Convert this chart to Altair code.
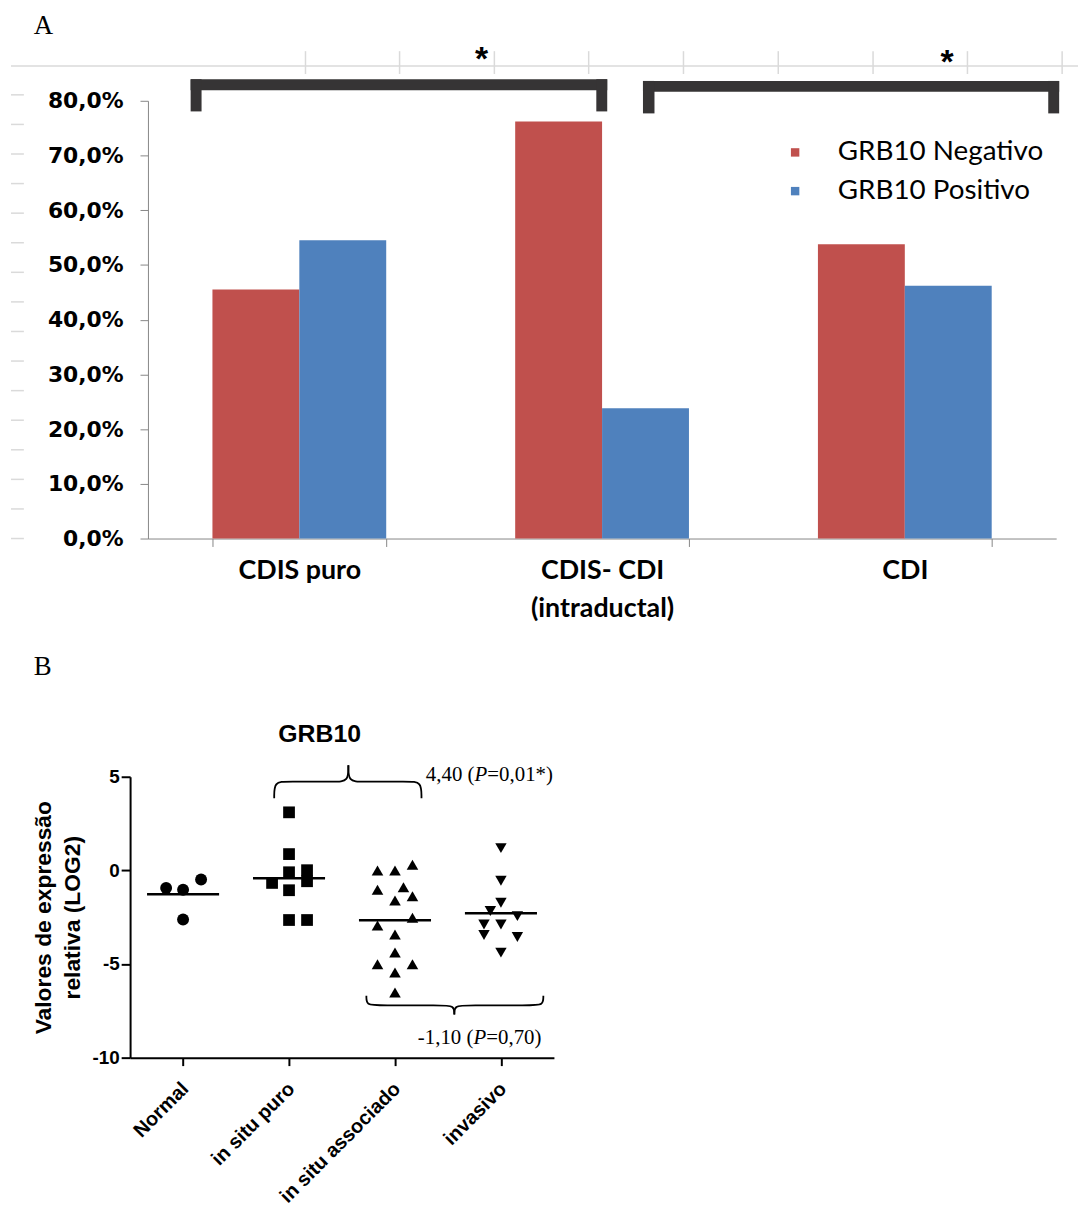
import json
import altair as alt
import pandas as pd

# ---------------- Panel A : bar chart ----------------
CATEGORIAS = ["CDIS puro", "CDIS- CDI\n(intraductal)", "CDI"]
SERIES = ["GRB10 Negativo", "GRB10 Positivo"]
GRB10_NEGATIVO = [45.5, 76.2, 53.8]
GRB10_POSITIVO = [54.5, 23.8, 46.2]
CORES = ["#C0504D", "#4F81BD"]
Y_TICKS_A = [0, 10, 20, 30, 40, 50, 60, 70, 80]
SIGNIF_A = ["*", "*"]

# ---------------- Panel B : dot plot ----------------
GRUPOS = ["Normal", "in situ puro", "in situ associado", "invasivo"]
NORMAL = [-0.94, -1.03, -0.49, -2.62]
NORMAL_COL = [-0.16, 0.0, 0.17, 0.0]
IN_SITU_PURO = [3.10, 0.87, -0.10, 0.01, -0.58, -0.67, -1.06, -2.65, -2.65]
IN_SITU_PURO_COL = [0.0, 0.0, 0.0, 0.17, 0.17, -0.16, 0.0, 0.0, 0.17]
IN_SITU_ASSOC = [0.00, 0.00, 0.30, -1.03, -0.90, -1.61, -1.38, -2.53, -2.94,
                 -3.42, -4.39, -5.01, -5.01, -5.45, -6.52]
IN_SITU_ASSOC_COL = [-0.165, 0.0, 0.165, -0.165, 0.08, 0.0, 0.165, 0.165, -0.165,
                     0.0, 0.0, -0.165, 0.165, 0.0, 0.0]
INVASIVO = [1.19, -0.55, -1.73, -2.17, -2.44, -2.89, -2.89, -3.45, -3.56, -4.39]
INVASIVO_COL = [0.0, 0.0, 0.0, -0.10, 0.155, -0.16, 0.0, -0.16, 0.155, 0.0]
Y_TICKS_B = [-10, -5, 0, 5]
TITULO_B = "GRB10"
Y_TITULO_B = ["Valores de expressão", "relativa (LOG2)"]
COMP_PRE = ["4,40 (", "-1,10 ("]
COMP_P = ["P", "P"]
COMP_POST = ["=0,01*)", "=0,70)"]
COMP_X = [2.75, 2.74]
COMP_Y = [4.77, -9.27]
# braces: x_left, x_tip, x_right, y_end, y_mid, y_tip (data units)
BRACES = [(0.86, 1.56, 2.25, 3.85, 4.74, 5.62),
          (1.73, 2.56, 3.40, -6.69, -7.21, -7.69)]

SANS = "Liberation Sans"
SERIF = "Liberation Serif"
W_A, H_A = 915, 441
W_B, H_B = 409, 283
B_SHIFT = 18

# ================= Panel A =================
dfA = pd.DataFrame({
    "categoria": CATEGORIAS * 2,
    "serie": [SERIES[0]] * 3 + [SERIES[1]] * 3,
    "valor": GRB10_NEGATIVO + GRB10_POSITIVO,
})

bars = alt.Chart(dfA).mark_bar().encode(
    x=alt.X("categoria:N", sort=CATEGORIAS, title=None,
            scale=alt.Scale(paddingInner=0.426, paddingOuter=0.213),
            axis=alt.Axis(labelExpr="split(datum.label, '\\n')", labelAngle=0,
                          labelFont="Lato", labelFontWeight="bold", labelFontSize=27,
                          labelColor="black", labelLineHeight=39, labelPadding=11,
                          labelBaseline="top", tickBand="extent", tickSize=8,
                          tickColor="#868686", domainColor="#868686", grid=False)),
    xOffset=alt.XOffset("serie:N", sort=SERIES),
    y=alt.Y("valor:Q", title=None, scale=alt.Scale(domain=[0, 80], nice=False),
            axis=alt.Axis(values=Y_TICKS_A,
                          labelExpr="replace(format(datum.value, '.1f'), '.', ',') + '%'",
                          labelFont="DejaVu Sans", labelFontWeight="bold", labelFontSize=22,
                          labelColor="black", labelPadding=17, tickSize=8,
                          tickColor="#868686", domainColor="#868686", grid=False)),
    color=alt.Color("serie:N", sort=SERIES,
                    scale=alt.Scale(domain=SERIES, range=CORES),
                    legend=alt.Legend(orient="none", legendX=638, legendY=38, title=None,
                                      symbolType="square", symbolSize=72,
                                      symbolStrokeWidth=0, labelFont="Lato",
                                      labelFontSize=28, labelColor="black", labelLimit=0,
                                      labelOffset=29, rowPadding=11, padding=0)),
)

# decorative ruler artefacts (pixel offsets from panel A origin)
ruler_rows = [(-138, 937, -35, -35)]
for xr in [306.7, 401.5, 497, 592, 687.5, 783, 878.5, 973.6, 1069]:
    ruler_rows.append((xr - 148, xr - 148, -50, -27))
for k in range(16):
    yr = -6 + 29.8 * k
    ruler_rows.append((-138, -125, yr, yr))
ruler = alt.Chart(pd.DataFrame(ruler_rows, columns=["x", "x2", "y", "y2"])).mark_rule(
    color="#dadada", strokeWidth=1.5).encode(
    x=alt.X("x:Q", scale=None, axis=None), x2="x2:Q",
    y=alt.Y("y:Q", scale=None, axis=None), y2="y2:Q")

bracket_rows = [(43, 462.7, -21.7, -10.7), (43, 54, -21.7, 10.7), (451.7, 462.7, -21.7, 10.7),
                (498.7, 918, -20, -9), (498.7, 510.3, -20, 12.7), (907, 918, -20, 12.7)]
brackets = alt.Chart(pd.DataFrame(bracket_rows, columns=["x", "x2", "y", "y2"])).mark_rect(
    color="#363435").encode(
    x=alt.X("x:Q", scale=None, axis=None), x2="x2:Q",
    y=alt.Y("y:Q", scale=None, axis=None), y2="y2:Q")

stars = alt.Chart(pd.DataFrame({"t": SIGNIF_A, "x": [336, 805], "y": [-31, -28]})).mark_text(
    font=SANS, fontWeight="bold", fontSize=34, color="black", align="center",
    baseline="alphabetic").encode(
    text="t:N", x=alt.X("x:Q", scale=None, axis=None), y=alt.Y("y:Q", scale=None, axis=None))

letterA = alt.Chart(pd.DataFrame({"t": ["A"]})).mark_text(
    font=SERIF, fontSize=27, color="black", align="left", baseline="alphabetic").encode(
    text="t:N", x=alt.value(-115), y=alt.value(-67))

panelA = alt.layer(bars, ruler, brackets, stars, letterA).properties(width=W_A, height=H_A)

# ================= Panel B =================
rows = []
for i, (vals, cols) in enumerate([(NORMAL, NORMAL_COL), (IN_SITU_PURO, IN_SITU_PURO_COL),
                                  (IN_SITU_ASSOC, IN_SITU_ASSOC_COL), (INVASIVO, INVASIVO_COL)]):
    for v, c in zip(vals, cols):
        rows.append({"grupo": GRUPOS[i], "idx": i, "col": c, "valor": v})
dfB = pd.DataFrame(rows)
dfB["xpos"] = dfB["idx"] + dfB["col"]

xsB = alt.Scale(domain=[-0.5, 3.5], range=[-B_SHIFT, W_B], nice=False, zero=False)
ysB = alt.Scale(domain=[-10, 5], nice=False, zero=False)
label_expr = json.dumps(GRUPOS) + "[datum.value]"

x_axis_B = alt.Axis(values=[0, 1, 2, 3], labelExpr=label_expr, labelAngle=-45,
                    labelAlign="right", labelBaseline="middle", labelFont=SANS,
                    labelFontWeight="bold", labelFontSize=20, labelColor="black",
                    labelPadding=20, labelOffset=2, labelOverlap=False, labelLimit=0,
                    tickSize=8, tickWidth=2, tickColor="black",
                    domainColor="black", domainWidth=2, grid=False)
y_axis_B = alt.Axis(values=Y_TICKS_B, offset=B_SHIFT, labelExpr="'' + datum.value",
                    titleFont=SANS, titleFontWeight="bold", titleFontSize=23,
                    titleColor="black", titleLineHeight=29, titlePadding=8,
                    labelFont=SANS, labelFontWeight="bold", labelFontSize=19,
                    labelColor="black", labelPadding=2, tickSize=9, tickWidth=2,
                    tickColor="black", domainColor="black", domainWidth=2, grid=False)


def xB(field):
    return alt.X(field, scale=xsB, title=None, axis=x_axis_B)


def yB(field):
    return alt.Y(field, scale=ysB, title=Y_TITULO_B, axis=y_axis_B)


points = alt.Chart(dfB).mark_point(filled=True, opacity=1, color="black").encode(
    x=xB("xpos:Q"),
    y=yB("valor:Q"),
    shape=alt.Shape("grupo:N", scale=alt.Scale(domain=GRUPOS,
                    range=["circle", "square", "triangle-up", "triangle-down"]), legend=None),
    size=alt.Size("grupo:N", scale=alt.Scale(domain=GRUPOS, range=[144, 132, 110, 110]),
                  legend=None),
)

means = alt.Chart(dfB).transform_aggregate(
    m="mean(valor)", groupby=["grupo", "idx"]
).transform_calculate(
    xa="datum.idx - 0.34", xb="datum.idx + 0.34"
).mark_rule(color="black", strokeWidth=2.5).encode(
    x=xB("xa:Q"), x2="xb:Q", y=yB("m:Q"))

brace_rows = []
for b, (x0, xc, x1, ye, ym, yt) in enumerate(BRACES):
    r = 0.12
    for side, (xa, sgn) in enumerate([(x0, 1), (x1, -1)]):
        pts = [(xa, ye), (xa, ym), (xa + sgn * r, ym), (xc - sgn * r, ym), (xc, ym), (xc, yt)]
        for o, (px, py) in enumerate(pts):
            brace_rows.append({"part": f"{b}-{side}", "o": o, "bx": px, "by": py})
braces = alt.Chart(pd.DataFrame(brace_rows)).mark_line(
    interpolate="basis", color="black", strokeWidth=1.8).encode(
    x=xB("bx:Q"), y=yB("by:Q"), detail="part:N", order="o:Q")

dfC = pd.DataFrame({"pre": COMP_PRE, "p": COMP_P, "post": COMP_POST, "x": COMP_X, "y": COMP_Y})
comp_pre = alt.Chart(dfC).mark_text(font=SERIF, fontSize=21, color="black", align="right",
                                    baseline="alphabetic").encode(
    text="pre:N", x=xB("x:Q"), y=yB("y:Q"))
comp_p = alt.Chart(dfC).mark_text(font=SERIF, fontSize=21, fontStyle="italic", color="black",
                                  align="left", baseline="alphabetic").encode(
    text="p:N", x=xB("x:Q"), y=yB("y:Q"))
comp_post = alt.Chart(dfC).mark_text(font=SERIF, fontSize=21, color="black", align="left",
                                     baseline="alphabetic", dx=13).encode(
    text="post:N", x=xB("x:Q"), y=yB("y:Q"))

titleB = alt.Chart(pd.DataFrame({"t": [TITULO_B]})).mark_text(
    font=SANS, fontWeight="bold", fontSize=25, color="black", align="center",
    baseline="middle").encode(text="t:N", x=alt.value(173), y=alt.value(-43))
letterB = alt.Chart(pd.DataFrame({"t": ["B"]})).mark_text(
    font=SERIF, fontSize=27, color="black", align="left", baseline="alphabetic").encode(
    text="t:N", x=alt.value(-115), y=alt.value(-103))

panelB = alt.layer(points, means, braces, comp_pre, comp_p, comp_post, titleB, letterB).properties(
    width=W_B, height=H_B)

chart = alt.vconcat(panelA, panelB, spacing=240, bounds="flush").properties(
    padding={"left": 2, "top": 0, "right": 2, "bottom": 0}
).configure_view(stroke=None).resolve_scale(color="independent")

chart.save("out.html", embed_options={"renderer": "svg", "actions": False})
